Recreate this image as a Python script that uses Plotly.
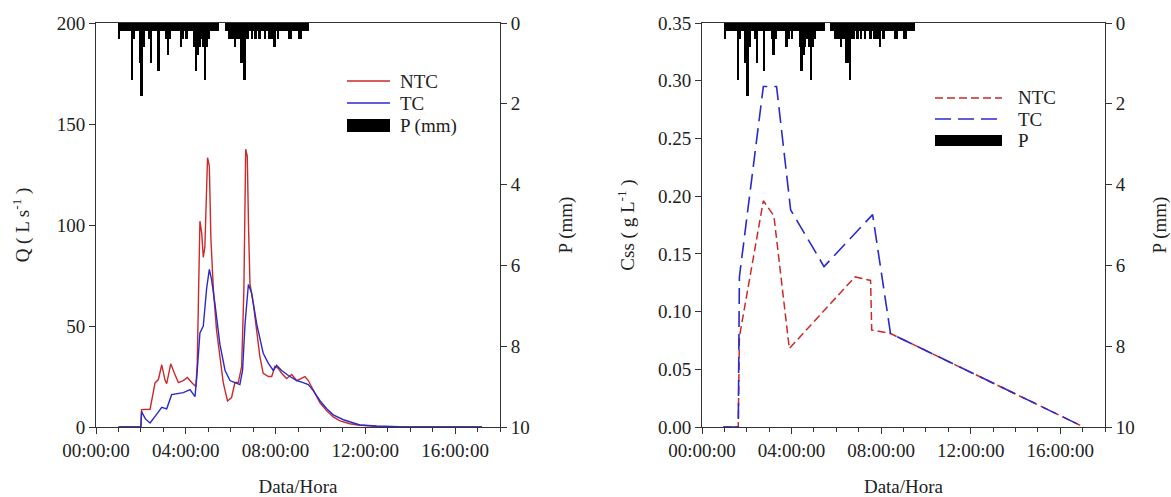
import plotly.graph_objects as go

# ---- rainfall (mm per 5-min interval), starting at 01:00 ----
p_start_h = 1.0
p_step_h = 5 / 60
p_mm = [0.4, 0.2, 0.2, 0.2, 0.2, 0.2, 0.2, 1.4, 0.4, 0.2,
        0.2, 1.0, 1.8, 0.6, 0.2, 0.2, 0.4, 1.0, 0.2, 0.2,
        0.2, 1.2, 0.2, 0.2, 0.2, 0.4, 0.8, 0.4, 0.2, 0.2,
        0.2, 0.2, 0.2, 0.6, 0.4, 0.2, 0.4, 0.2, 0.2, 0.2,
        0.6, 1.2, 0.8, 0.6, 0.4, 0.6, 1.4, 0.6, 0.4, 0.2,
        0.2, 0.2, 0.2, 0.2, 0.0, 0.0, 0.0, 0.2, 0.2, 0.4,
        0.4, 0.4, 0.6, 0.4, 0.4, 1.0, 1.0, 1.4, 0.4, 0.4,
        0.2, 0.4, 0.2, 0.4, 0.2, 0.4, 0.2, 0.2, 0.4, 0.2,
        0.4, 0.4, 0.4, 0.6, 0.2, 0.4, 0.2, 0.2, 0.2, 0.2,
        0.2, 0.4, 0.4, 0.2, 0.2, 0.2, 0.4, 0.4, 0.2, 0.2,
        0.2, 0.2]
p_time = [p_start_h + (i + 0.5) * p_step_h for i in range(len(p_mm))]

# ---- discharge Q (L/s), time in hours ----
q_ntc_t = [1.0, 2.0, 2.03, 2.41, 2.63, 2.78, 2.93, 3.08, 3.15, 3.33, 3.48, 3.67,
           3.89, 4.07, 4.26, 4.45, 4.51, 4.57, 4.63, 4.71, 4.78, 4.85, 4.97, 5.05,
           5.12, 5.23, 5.37, 5.52, 5.67, 5.86, 6.04, 6.19, 6.34, 6.49, 6.59, 6.67,
           6.74, 6.8, 6.86, 7.01, 7.16, 7.3, 7.45, 7.68, 7.83, 7.97, 8.12, 8.27,
           8.49, 8.72, 8.94, 9.16, 9.31, 9.46, 9.68, 9.98, 10.28, 10.57, 10.87,
           11.31, 11.68, 12.5, 13.5, 17.2]
q_ntc = [0, 0, 8.6, 8.8, 21.8, 23.5, 30.8, 23, 21.5, 31.3, 27, 22,
         23, 24.5, 22, 20, 31, 74.6, 101.9, 96, 84, 89, 133.3, 129,
         93, 68, 48, 35, 22, 12.9, 14.6, 22, 22, 30, 68.7, 137.5,
         134, 97, 71, 61, 48, 35, 26.6, 25, 25, 30, 29, 26.6,
         24, 26, 23, 24, 25, 23, 18, 12, 8, 5, 3,
         1.6, 1, 0.3, 0, 0]

q_tc_t = [1.0, 2.0, 2.03, 2.2, 2.41, 2.63, 2.75, 2.93, 3.15, 3.37, 3.6, 3.89,
          4.19, 4.41, 4.48, 4.63, 4.78, 4.93, 5.05, 5.15, 5.3, 5.52, 5.75, 5.97,
          6.19, 6.41, 6.53, 6.64, 6.79, 6.93, 7.16, 7.45, 7.68, 7.9, 8.05, 8.27,
          8.57, 8.94, 9.23, 9.46, 9.68, 9.98, 10.28, 10.57, 11.02, 11.46, 11.76,
          12.5, 13.5, 17.2]
q_tc = [0, 0, 7.6, 4, 2, 5, 7, 9.7, 9, 16, 16.5, 17,
        18.5, 15, 23.3, 46.6, 50, 68.7, 78, 73, 61, 41, 28, 23,
        22, 21, 28, 51, 70.6, 66.5, 51, 36.5, 31.5, 28, 30.5, 28,
        25.5, 23, 22, 21, 18, 13, 9, 6, 3.6, 2, 1,
        0.5, 0.1, 0]

# ---- suspended sediment concentration Css (g/L) ----
css_ntc_t = [0.95, 1.62, 1.67, 2.74, 3.21, 3.9, 6.83, 7.53, 7.58, 8.42, 17.05]
css_ntc = [0, 0, 0.078, 0.196, 0.183, 0.068, 0.130, 0.127, 0.084, 0.081, 0]
css_tc_t = [0.95, 1.62, 1.67, 2.74, 3.33, 3.96, 5.45, 7.62, 8.42, 17.05]
css_tc = [0, 0, 0.130, 0.295, 0.295, 0.188, 0.139, 0.184, 0.081, 0]

x_tickvals = [0, 4, 8, 12, 16]
x_ticktext = ["00:00:00", "04:00:00", "08:00:00", "12:00:00", "16:00:00"]

RED = "#cc2a2a"
BLUE = "#2a2ac8"
FONT = "Liberation Serif"
FS = 19
AX = "#333333"
W, H = 1171, 497


def fx(px):
    return px / W


def fy(py):
    return 1 - py / H


fig = go.Figure()

# left panel: hydrograph + hyetograph
fig.add_trace(go.Bar(x=p_time, y=p_mm, width=p_step_h, marker=dict(color="black", line_width=0),
                     xaxis="x", yaxis="y2", showlegend=False))
fig.add_trace(go.Scatter(x=q_ntc_t, y=q_ntc, mode="lines", line=dict(color=RED, width=1.4),
                         xaxis="x", yaxis="y", showlegend=False))
fig.add_trace(go.Scatter(x=q_tc_t, y=q_tc, mode="lines", line=dict(color=BLUE, width=1.4),
                         xaxis="x", yaxis="y", showlegend=False))

# right panel: sediment concentration + hyetograph
fig.add_trace(go.Bar(x=p_time, y=p_mm, width=p_step_h, marker=dict(color="black", line_width=0),
                     xaxis="x2", yaxis="y4", showlegend=False))
fig.add_trace(go.Scatter(x=css_ntc_t, y=css_ntc, mode="lines",
                         line=dict(color=RED, width=1.5, dash="8px,4px"),
                         xaxis="x2", yaxis="y3", showlegend=False))
fig.add_trace(go.Scatter(x=css_tc_t, y=css_tc, mode="lines",
                         line=dict(color=BLUE, width=1.6, dash="16px,7px"),
                         xaxis="x2", yaxis="y3", showlegend=False))

tickfont = dict(family=FONT, size=FS, color="#222222")
titlefont = dict(family=FONT, size=FS, color="#222222")

ydom = [fy(427), fy(23)]


def xaxis_cfg(dom, anchor):
    return dict(domain=dom, anchor=anchor, range=[0, 18], tickmode="array",
                tickvals=x_tickvals, ticktext=x_ticktext, ticks="outside", ticklen=6,
                tickcolor=AX, showline=True, linecolor=AX, linewidth=1, mirror=True,
                showgrid=False, zeroline=False, tickfont=tickfont, automargin=False,
                minor=dict(tickmode="linear", tick0=0, dtick=1, ticks="outside",
                           ticklen=4, tickcolor=AX),
                title=dict(text="Data/Hora", font=titlefont, standoff=20))


def p_axis_cfg(overlay, anchor, standoff):
    return dict(overlaying=overlay, anchor=anchor, side="right", range=[10, 0],
                tickmode="linear", tick0=0, dtick=2, ticks="outside", ticklen=6,
                tickcolor=AX, showline=True, linecolor=AX, linewidth=1,
                showgrid=False, zeroline=False, tickfont=tickfont, automargin=False,
                title=dict(text="P (mm)", font=titlefont, standoff=standoff))


fig.update_layout(
    width=W, height=H, margin=dict(l=0, r=0, t=0, b=0, autoexpand=False),
    paper_bgcolor="white", plot_bgcolor="white", bargap=0,
    font=dict(family=FONT, size=FS, color="#222222"),
    xaxis=xaxis_cfg([fx(96), fx(500)], "y"),
    yaxis=dict(domain=ydom, anchor="x", range=[0, 200], tickmode="linear", tick0=0, dtick=50,
               ticks="outside", ticklen=6, tickcolor=AX, showline=True, linecolor=AX,
               linewidth=1, showgrid=False, zeroline=False, tickfont=tickfont,
               automargin=False,
               title=dict(text="Q ( L s<sup>-1</sup> )", font=titlefont, standoff=22)),
    yaxis2=p_axis_cfg("y", "x", 29),
    xaxis2=xaxis_cfg([fx(702), fx(1105)], "y3"),
    yaxis3=dict(domain=ydom, anchor="x2", range=[0, 0.35], tickmode="linear", tick0=0,
                dtick=0.05, tickformat=".2f", ticks="outside", ticklen=6, tickcolor=AX,
                showline=True, linecolor=AX, linewidth=1, showgrid=False, zeroline=False,
                tickfont=tickfont, automargin=False,
                title=dict(text="Css ( g L<sup>-1</sup> )", font=titlefont, standoff=18)),
    yaxis4=p_axis_cfg("y3", "x2", 18),
)

# legends
shapes = []
annotations = []


def legend_line(x0, x1, y, color, dash):
    shapes.append(dict(type="line", xref="paper", yref="paper", x0=fx(x0), x1=fx(x1),
                       y0=fy(y), y1=fy(y), line=dict(color=color, width=1.5, dash=dash)))


def legend_box(x0, x1, y0, y1):
    shapes.append(dict(type="rect", xref="paper", yref="paper", x0=fx(x0), x1=fx(x1),
                       y0=fy(y1), y1=fy(y0), fillcolor="black", line=dict(width=0)))


def legend_text(x, y, text):
    annotations.append(dict(xref="paper", yref="paper", x=fx(x), y=fy(y), text=text,
                            showarrow=False, xanchor="left", yanchor="middle",
                            font=dict(family=FONT, size=FS, color="#222222")))


legend_line(347, 390, 81, RED, "solid")
legend_line(347, 390, 103, BLUE, "solid")
legend_box(347, 390, 119, 132)
legend_text(398, 81, "NTC")
legend_text(398, 103, "TC")
legend_text(398, 126, "P (mm)")

legend_line(935, 1002, 98, RED, "8px,4px")
legend_line(935, 1002, 119, BLUE, "16px,7px")
legend_box(935, 1002, 135, 146)
legend_text(1016, 98, "NTC")
legend_text(1016, 119, "TC")
legend_text(1016, 140, "P")

fig.update_layout(shapes=shapes, annotations=annotations)

fig.write_html("out.html")
